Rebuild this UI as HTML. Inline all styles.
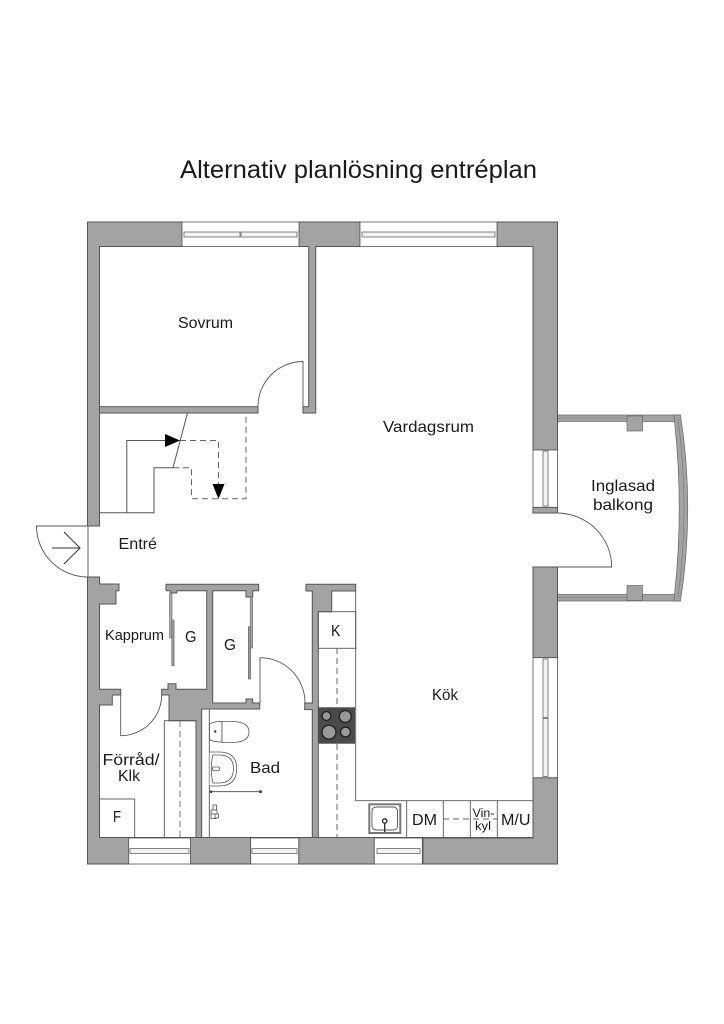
<!DOCTYPE html>
<html lang="sv">
<head>
<meta charset="utf-8">
<title>Alternativ planlösning entréplan</title>
<style>
html,body{margin:0;padding:0;background:#fff;}
svg{display:block;}
text{font-family:"Liberation Sans",sans-serif;fill:#1a1a1a;}
</style>
</head>
<body>
<svg width="724" height="1024" viewBox="0 0 724 1024" xmlns="http://www.w3.org/2000/svg">
<rect width="724" height="1024" fill="#fff"/>

<text x="180" y="178" font-size="25" textLength="357" lengthAdjust="spacingAndGlyphs">Alternativ planlösning entréplan</text>

<!-- balcony -->
<g fill="#a3a3a3" stroke="#666" stroke-width="0.7">
<rect x="557" y="415" width="121" height="6.5"/>
<rect x="557" y="594.5" width="121" height="6.5"/>
<path d="M674 415 L680.5 415 Q695 508 680.5 601 L674 601 L674.5 594.5 Q684 508 674.5 421.5 Z"/>
<rect x="627" y="416" width="15.5" height="15"/>
<rect x="627" y="585.5" width="15.5" height="15"/>
</g>
<path d="M678 418 Q690 508 678 598" fill="none" stroke="#777" stroke-width="0.6"/>
<line x1="557" y1="418" x2="627" y2="418" stroke="#777" stroke-width="0.6"/>
<line x1="557" y1="597.5" x2="627" y2="597.5" stroke="#777" stroke-width="0.6"/>

<!-- outer walls -->
<g fill="#a3a3a3" stroke="#555" stroke-width="1">
<path d="M87.5 222 H182 V246.5 H99.5 V526 H87.5 Z"/>
<path d="M299 222 H360 V246.5 H315.7 V413 H303 V406.7 H308.7 V246.5 H299 Z"/>
<path d="M497 222 H557.5 V450 H533 V246.5 H497 Z"/>
<rect x="533" y="507.3" width="24.5" height="5.7"/>
<rect x="533" y="567" width="24.5" height="90.7"/>
<path d="M533 777.7 H557.5 V864 H423 V838 H533 Z"/>
<path d="M87.5 577 H99.5 V584 H119 V590.7 H116 V604 H99.5 V689.3 H120.7 V695 H112.3 V705 H99.5 V837.5 H129 V864 H87.5 Z"/>
<rect x="190.5" y="837.5" width="60.2" height="26.5"/>
<rect x="298.7" y="837.5" width="75.6" height="26.5"/>
<!-- bedroom bottom wall -->
<rect x="99.5" y="406.7" width="158.5" height="6.3"/>
<!-- wardrobes / core -->
<path d="M166 584.3 H258.7 V590.7 H252.7 V597 H246 V590.7 H212.7 V703 H246 V699 H252.7 V703 H259.7 V709 H201.7 V837.5 H196 V720.7 H169 V695 H161.7 V689.3 H168 V683.7 H176 V689.3 H206.7 V590.7 H176.7 V593 H170.7 V590.7 H166 Z"/>
<!-- kitchen back wall -->
<path d="M306 584.3 H355.7 V591 H331.7 V611.7 H318.3 V837.5 H312.3 V709.6 H304.7 V703 H312.3 V591 H306 Z"/>
</g>

<!-- thin outlines -->
<g fill="none" stroke="#555" stroke-width="0.9">
<rect x="164.3" y="720.7" width="31.7" height="116.8"/>
<rect x="99.5" y="799" width="35.2" height="38.5"/>
<line x1="99.5" y1="837.5" x2="312.5" y2="837.5"/>
<line x1="318.3" y1="837.5" x2="533" y2="837.5"/>
<line x1="209.3" y1="709" x2="209.3" y2="837.5"/>
<rect x="318.3" y="611.7" width="37.4" height="36.6"/>
<path d="M355.7 591 V800.7 H533"/>
<line x1="406.7" y1="800.7" x2="406.7" y2="837.5"/>
<line x1="443.3" y1="800.7" x2="443.3" y2="837.5"/>
<line x1="470.3" y1="800.7" x2="470.3" y2="837.5"/>
<line x1="497.3" y1="800.7" x2="497.3" y2="837.5"/>
</g>

<!-- windows -->
<g fill="#fff" stroke="#555" stroke-width="0.8">
<rect x="182" y="222" width="117" height="24.5"/>
<rect x="360" y="222" width="137" height="24.5"/>
<rect x="128.7" y="838" width="61.8" height="26"/>
<rect x="250.7" y="838" width="48" height="26"/>
<rect x="374.3" y="838" width="48" height="26"/>
<rect x="533" y="450" width="24.5" height="57.3"/>
<rect x="533" y="657.7" width="24.5" height="120"/>
</g>
<g fill="#f2f2f2" stroke="#666" stroke-width="0.8">
<rect x="184" y="232" width="56" height="5"/>
<rect x="241" y="232" width="56" height="5"/>
<rect x="362" y="232" width="133" height="5"/>
<rect x="130" y="848.5" width="59" height="5"/>
<rect x="252" y="848.5" width="45" height="5"/>
<rect x="377" y="848.5" width="43" height="5"/>
<rect x="543" y="451" width="5" height="55"/>
<rect x="543" y="659" width="5" height="58.5"/>
<rect x="543" y="718.5" width="5" height="58"/>
</g>

<!-- doors -->
<g fill="none" stroke="#555" stroke-width="0.9">
<path d="M303 406.7 V361.5 A45 45 0 0 0 258 406.7"/>
<path d="M88 526 H36.5 A51.5 51 0 0 0 88 577 V526"/>
<path d="M260 703 V657.7 A45 45 0 0 1 305 703"/>
<path d="M120.7 695 V735.7 A41 41 0 0 0 161.7 695"/>
<path d="M533 567 H611.7 A54.7 54 0 0 0 557 513"/>
</g>
<g fill="none" stroke="#333" stroke-width="1">
<path d="M52 548 H80 M64 532 L80 548 L64 564"/>
</g>

<!-- stairs -->
<g fill="none" stroke="#555" stroke-width="1">
<path d="M99.5 512.7 H154 V467.7 H173 L187.5 413"/>
<path d="M126.8 512.7 V440.5 H180"/>
<g stroke-dasharray="6 4" stroke="#666">
<path d="M173 467.7 H191.5 V498.7 H246 V413"/>
<path d="M180 440.5 H218.5 V485"/>
<line x1="337" y1="648" x2="337" y2="707"/>
<line x1="337" y1="744" x2="337" y2="837"/>
<line x1="180" y1="721" x2="180" y2="837" stroke-width="1.3" stroke="#999"/>
<line x1="443" y1="819" x2="497" y2="819"/>
</g>
</g>
<polygon points="165,434 165,447 180,440.5" fill="#000"/>
<polygon points="212.5,484 224.5,484 218.5,499" fill="#000"/>

<!-- sliding wardrobe doors -->
<g stroke="#666" stroke-width="0.6">
<rect x="169.5" y="593" width="2.5" height="45" fill="#aaa"/>
<rect x="171.8" y="620" width="2.3" height="45.7" fill="#999"/>
<rect x="250.2" y="597" width="2.5" height="51" fill="#aaa"/>
<rect x="248.3" y="626.7" width="2.3" height="52.3" fill="#999"/>
</g>

<!-- hob -->
<rect x="318.3" y="707.3" width="36.7" height="36.4" fill="#4a4a4a"/>
<g fill="#999" stroke="#222" stroke-width="1.4">
<circle cx="326.5" cy="716" r="4.4"/>
<circle cx="345.3" cy="716.5" r="6"/>
<circle cx="329" cy="732.2" r="7"/>
<circle cx="345.5" cy="732" r="5"/>
</g>

<!-- sink -->
<rect x="369.3" y="804.3" width="31" height="28.7" fill="#fff" stroke="#777" stroke-width="2"/>
<rect x="372" y="807" width="25.5" height="23" rx="4" fill="#fff" stroke="#555" stroke-width="0.9"/>
<circle cx="384.7" cy="821" r="2.2" fill="none" stroke="#222" stroke-width="1.3"/>
<line x1="384.7" y1="823" x2="384.7" y2="832" stroke="#333" stroke-width="1.4"/>

<!-- bathroom fixtures -->
<g fill="#fff" stroke="#555" stroke-width="0.8">
<path d="M209.5 724 Q213 721.5 222 721.5 V742 Q213 742 209.5 739.5 Z"/>
<path d="M222 721.5 H231 Q249 721.5 249 732 Q249 742.5 231 742.5 H222 Z"/>
<path d="M209.5 752 H219 Q236.7 752 236.7 768.5 Q236.7 786 219 786 H209.5"/>
<path d="M213 755 H219 Q233.5 755 233.5 768.5 Q233.5 783 219 783 H213 Q209.5 768 213 755 Z"/>
<rect x="212.5" y="767" width="7" height="3.5" rx="1"/>
<rect x="213" y="805" width="3.5" height="5"/>
<rect x="211" y="810" width="6" height="4"/>
<rect x="211" y="814" width="5" height="4.5"/>
<rect x="215" y="814" width="3.5" height="4"/>
</g>
<circle cx="215.2" cy="731.5" r="1.2" fill="#333"/>
<line x1="211" y1="791.7" x2="260.5" y2="791.7" stroke="#444" stroke-width="0.9"/>
<circle cx="211" cy="791.7" r="1.3" fill="#444"/>
<circle cx="260.5" cy="791.7" r="1.5" fill="#444"/>

<!-- labels -->
<g font-size="16">
<text x="178" y="328" textLength="55" lengthAdjust="spacingAndGlyphs">Sovrum</text>
<text x="383" y="432" textLength="91" lengthAdjust="spacingAndGlyphs">Vardagsrum</text>
<text x="118.5" y="549" textLength="38.5" lengthAdjust="spacingAndGlyphs">Entré</text>
<text x="105" y="640" font-size="14.5" textLength="59" lengthAdjust="spacingAndGlyphs">Kapprum</text>
<text x="185" y="642" textLength="11.5" lengthAdjust="spacingAndGlyphs">G</text>
<text x="224" y="650" textLength="12" lengthAdjust="spacingAndGlyphs">G</text>
<text x="102.5" y="765" textLength="57" lengthAdjust="spacingAndGlyphs">Förråd/</text>
<text x="118" y="781" textLength="22" lengthAdjust="spacingAndGlyphs">Klk</text>
<text x="113" y="822" textLength="8" lengthAdjust="spacingAndGlyphs">F</text>
<text x="250" y="773" textLength="30" lengthAdjust="spacingAndGlyphs">Bad</text>
<text x="331" y="636" textLength="9.5" lengthAdjust="spacingAndGlyphs">K</text>
<text x="432" y="700" textLength="26" lengthAdjust="spacingAndGlyphs">Kök</text>
<text x="412" y="825" textLength="25" lengthAdjust="spacingAndGlyphs">DM</text>
<text x="501" y="825" textLength="29.5" lengthAdjust="spacingAndGlyphs">M/U</text>
<text x="591" y="491" textLength="64" lengthAdjust="spacingAndGlyphs">Inglasad</text>
<text x="593" y="510" textLength="60" lengthAdjust="spacingAndGlyphs">balkong</text>
<text x="472.5" y="817" font-size="11.5" textLength="22" lengthAdjust="spacingAndGlyphs">Vin-</text>
<text x="475" y="830" font-size="11.5" textLength="16" lengthAdjust="spacingAndGlyphs">kyl</text>
</g>
</svg>
</body>
</html>
